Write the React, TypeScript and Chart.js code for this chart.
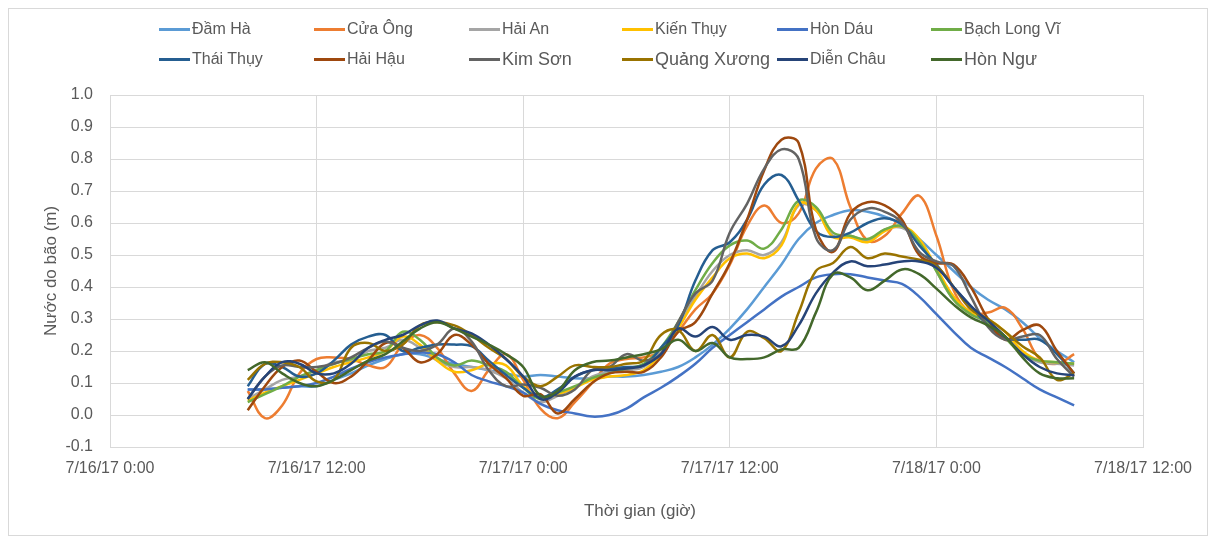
import React, { useEffect, useRef } from "react";
import { Chart, registerables } from "chart.js";

Chart.register(...registerables);

const FONT = "'Liberation Sans', Arial, sans-serif";
const TEXT = "#595959";
const GRID = "#d9d9d9";

// hours since 7/16/17 0:00
const HOURS = [
  8, 9, 10, 11, 12, 13, 14, 15, 16, 17, 18, 19, 20, 21, 22, 23, 24, 25, 26, 27, 28, 29, 30, 31, 32,
  33, 34, 35, 36, 37, 38, 39, 40, 41, 42, 43, 44, 45, 46, 47, 48, 49, 50, 51, 52, 53, 54, 55, 56,
];

const X_TICK_LABELS = [
  "7/16/17 0:00",
  "7/16/17 12:00",
  "7/17/17 0:00",
  "7/17/17 12:00",
  "7/18/17 0:00",
  "7/18/17 12:00",
];

const SERIES_NAMES = [
  "Đầm Hà", "Cửa Ông", "Hải An", "Kiến Thụy", "Hòn Dáu", "Bạch Long Vĩ",
  "Thái Thụy", "Hải Hậu", "Kim Sơn", "Quảng Xương", "Diễn Châu", "Hòn Ngư",
];

const SERIES_COLORS = [
  "#5B9BD5", "#ED7D31", "#A5A5A5", "#FFC000", "#4472C4", "#70AD47",
  "#255E91", "#9E480E", "#636363", "#997300", "#264478", "#43682B",
];

const damHa = [0.08, 0.08, 0.085, 0.09, 0.09, 0.11, 0.13, 0.155, 0.175, 0.19, 0.19, 0.175, 0.16, 0.15, 0.14, 0.13, 0.12, 0.125, 0.12, 0.115, 0.115, 0.12, 0.12, 0.125, 0.135, 0.15, 0.18, 0.22, 0.27, 0.33, 0.4, 0.47, 0.55, 0.6, 0.625, 0.64, 0.635, 0.62, 0.595, 0.55, 0.5, 0.45, 0.4, 0.36, 0.33, 0.29, 0.24, 0.2, 0.165];
const cuaOng = [0.075, -0.01, 0.03, 0.13, 0.175, 0.18, 0.175, 0.155, 0.15, 0.22, 0.25, 0.21, 0.13, 0.075, 0.14, 0.19, 0.11, 0.02, -0.01, 0.04, 0.1, 0.16, 0.175, 0.18, 0.2, 0.26, 0.33, 0.38, 0.47, 0.59, 0.655, 0.6, 0.63, 0.77, 0.8, 0.65, 0.545, 0.56, 0.63, 0.685, 0.56, 0.39, 0.32, 0.32, 0.335, 0.27, 0.175, 0.16, 0.19];
const haiAn = [0.05, 0.08, 0.11, 0.12, 0.14, 0.165, 0.17, 0.2, 0.21, 0.235, 0.21, 0.17, 0.15, 0.15, 0.14, 0.115, 0.07, 0.04, 0.06, 0.085, 0.12, 0.135, 0.14, 0.15, 0.2, 0.28, 0.37, 0.45, 0.5, 0.515, 0.5, 0.54, 0.655, 0.64, 0.56, 0.56, 0.545, 0.58, 0.585, 0.545, 0.45, 0.36, 0.315, 0.29, 0.245, 0.19, 0.165, 0.16, 0.155];
const kienThuy = [0.045, 0.07, 0.09, 0.11, 0.13, 0.15, 0.165, 0.18, 0.2, 0.245, 0.22, 0.17, 0.135, 0.14, 0.16, 0.155, 0.09, 0.055, 0.065, 0.085, 0.11, 0.12, 0.125, 0.14, 0.19, 0.27, 0.36, 0.43, 0.49, 0.505, 0.49, 0.53, 0.66, 0.64, 0.556, 0.555, 0.54, 0.575, 0.59, 0.55, 0.46, 0.37, 0.32, 0.3, 0.26, 0.2, 0.17, 0.165, 0.16];
const honDau = [0.08, 0.08, 0.085, 0.09, 0.1, 0.12, 0.145, 0.165, 0.18, 0.19, 0.195, 0.19, 0.165, 0.125, 0.105, 0.09, 0.07, 0.035, 0.015, 0.005, -0.005, 0.0, 0.02, 0.055, 0.085, 0.12, 0.16, 0.21, 0.25, 0.29, 0.33, 0.37, 0.4, 0.43, 0.44, 0.44, 0.43, 0.42, 0.41, 0.37, 0.315, 0.26, 0.21, 0.18, 0.15, 0.115, 0.08, 0.055, 0.03];
const bachLongVi = [0.04, 0.065, 0.09, 0.12, 0.14, 0.16, 0.175, 0.19, 0.2, 0.26, 0.235, 0.18, 0.155, 0.17, 0.155, 0.135, 0.085, 0.05, 0.07, 0.09, 0.115, 0.13, 0.145, 0.16, 0.21, 0.29, 0.39, 0.475, 0.53, 0.545, 0.52, 0.58, 0.67, 0.65, 0.57, 0.56, 0.55, 0.58, 0.59, 0.54, 0.45, 0.36, 0.315, 0.29, 0.24, 0.19, 0.17, 0.165, 0.16];
const thaiThuy = [0.09, 0.16, 0.15, 0.12, 0.13, 0.17, 0.22, 0.245, 0.25, 0.2, 0.21, 0.22, 0.22, 0.215, 0.17, 0.125, 0.085, 0.055, 0.08, 0.12, 0.14, 0.145, 0.15, 0.155, 0.21, 0.28, 0.42, 0.515, 0.54, 0.61, 0.72, 0.75, 0.67, 0.575, 0.556, 0.57, 0.6, 0.615, 0.595, 0.53, 0.47, 0.4, 0.34, 0.28, 0.24, 0.235, 0.235, 0.19, 0.13];
const haiHau = [0.015, 0.09, 0.15, 0.17, 0.135, 0.1, 0.12, 0.17, 0.225, 0.21, 0.165, 0.19, 0.25, 0.22, 0.16, 0.115, 0.06, 0.065, 0.005, 0.05, 0.1, 0.13, 0.135, 0.135, 0.18, 0.26, 0.29, 0.38, 0.475, 0.61, 0.765, 0.86, 0.85, 0.58, 0.51, 0.63, 0.665, 0.655, 0.61, 0.5, 0.475, 0.47, 0.4, 0.3, 0.235, 0.265, 0.28, 0.2, 0.13];
const kimSon = [0.05, 0.12, 0.155, 0.15, 0.15, 0.16, 0.18, 0.21, 0.23, 0.21, 0.2, 0.22, 0.27, 0.23, 0.14, 0.09, 0.095, 0.085, 0.06, 0.08, 0.14, 0.15, 0.19, 0.17, 0.19, 0.29, 0.38, 0.42, 0.57, 0.66, 0.77, 0.83, 0.8, 0.555, 0.515, 0.61, 0.645, 0.635, 0.6, 0.51, 0.48, 0.465, 0.37, 0.275, 0.235, 0.245, 0.25, 0.175, 0.12];
const quangXuong = [0.11, 0.16, 0.165, 0.15, 0.105, 0.11, 0.21, 0.225, 0.2, 0.22, 0.28, 0.29, 0.28, 0.25, 0.21, 0.175, 0.12, 0.09, 0.12, 0.155, 0.15, 0.15, 0.16, 0.17, 0.25, 0.265, 0.2, 0.25, 0.18, 0.26, 0.24, 0.2, 0.32, 0.45, 0.475, 0.525, 0.49, 0.505, 0.495, 0.485, 0.465, 0.4, 0.33, 0.3, 0.26, 0.215, 0.18, 0.11, 0.13];
const dienChau = [0.05, 0.12, 0.165, 0.16, 0.13, 0.13, 0.16, 0.21, 0.235, 0.25, 0.28, 0.295, 0.27, 0.255, 0.22, 0.175, 0.12, 0.05, 0.07, 0.12, 0.14, 0.14, 0.145, 0.155, 0.19, 0.27, 0.245, 0.275, 0.235, 0.25, 0.245, 0.215, 0.28, 0.38, 0.445, 0.48, 0.465, 0.47, 0.48, 0.48, 0.46, 0.4, 0.34, 0.295, 0.245, 0.19, 0.15, 0.13, 0.125];
const honNgu = [0.14, 0.165, 0.13, 0.1, 0.09, 0.11, 0.14, 0.17, 0.19, 0.23, 0.27, 0.29, 0.27, 0.245, 0.22, 0.19, 0.15, 0.06, 0.075, 0.14, 0.165, 0.17, 0.18, 0.19, 0.205, 0.235, 0.2, 0.225, 0.18, 0.175, 0.18, 0.205, 0.21, 0.32, 0.44, 0.43, 0.39, 0.42, 0.455, 0.44, 0.395, 0.345, 0.305, 0.28, 0.245, 0.18, 0.13, 0.115, 0.115];

const SERIES_VALUES = [
  damHa, cuaOng, haiAn, kienThuy, honDau, bachLongVi,
  thaiThuy, haiHau, kimSon, quangXuong, dienChau, honNgu,
];

// legend layout (column left positions, larger-font entries)
const LEGEND_COLS = [150, 305, 460, 613, 768, 922];
const LEGEND_BIG = [8, 9, 11];

export default function App() {
  const canvasRef = useRef<HTMLCanvasElement | null>(null);

  useEffect(() => {
    if (!canvasRef.current) return;
    Chart.defaults.font.family = FONT;
    const n = SERIES_NAMES.length;
    const chart = new Chart(canvasRef.current, {
      type: "line",
      data: {
        datasets: SERIES_NAMES.map((name, i) => ({
          label: name,
          data: HOURS.map((h, j) => ({ x: h, y: SERIES_VALUES[i][j] })),
          borderColor: SERIES_COLORS[i],
          backgroundColor: SERIES_COLORS[i],
          borderWidth: 2.5,
          pointRadius: 0,
          tension: 0.4,
          fill: false,
          order: n - 1 - i,
        })),
      },
      options: {
        animation: false,
        responsive: true,
        maintainAspectRatio: false,
        layout: { padding: { top: 86, right: 64, bottom: 0, left: 0 } },
        plugins: {
          legend: { display: false },
          tooltip: { enabled: false },
        },
        scales: {
          x: {
            type: "linear",
            min: 0,
            max: 60,
            ticks: {
              stepSize: 12,
              autoSkip: false,
              maxRotation: 0,
              padding: 12,
              color: TEXT,
              font: { family: FONT, size: 16 },
              callback: (v: any) => X_TICK_LABELS[Math.round(Number(v) / 12)] ?? "",
            },
            grid: { color: GRID, drawTicks: false, lineWidth: 1 },
            border: { color: GRID },
            afterFit: (s: any) => {
              s.height = 88;
            },
          },
          y: {
            min: -0.1,
            max: 1.0,
            ticks: {
              stepSize: 0.1,
              padding: 17,
              color: TEXT,
              font: { family: FONT, size: 16 },
              callback: (v: any) => Number(v).toFixed(1),
            },
            grid: { color: GRID, drawTicks: false, lineWidth: 1 },
            border: { color: GRID },
            title: {
              display: true,
              text: "Nước do bão (m)",
              color: TEXT,
              font: { family: FONT, size: 17 },
              padding: { top: 32, bottom: 0 },
            },
            afterFit: (s: any) => {
              s.width = 101;
            },
          },
        },
      },
    } as any);
    return () => chart.destroy();
  }, []);

  return (
    <div
      style={{
        position: "relative",
        width: 1198,
        height: 526,
        border: "1px solid #d9d9d9",
        fontFamily: FONT,
        background: "#fff",
      }}
    >
      <canvas ref={canvasRef} />
      {SERIES_NAMES.map((name, i) => {
        const row = Math.floor(i / 6);
        const col = i % 6;
        const big = LEGEND_BIG.includes(i);
        return (
          <div
            key={name}
            style={{
              position: "absolute",
              left: LEGEND_COLS[col],
              top: row === 0 ? 9 : 39,
              height: 22,
              display: "flex",
              alignItems: "center",
              whiteSpace: "nowrap",
              color: TEXT,
              fontSize: big ? 18 : 16,
            }}
          >
            <span
              style={{
                display: "inline-block",
                width: 31,
                height: 3,
                background: SERIES_COLORS[i],
                marginRight: 2,
              }}
            />
            <span>{name}</span>
          </div>
        );
      })}
      <div
        style={{
          position: "absolute",
          left: 631,
          top: 491,
          height: 22,
          lineHeight: "22px",
          transform: "translateX(-50%)",
          whiteSpace: "nowrap",
          color: TEXT,
          fontSize: 17,
        }}
      >
        Thời gian (giờ)
      </div>
    </div>
  );
}
